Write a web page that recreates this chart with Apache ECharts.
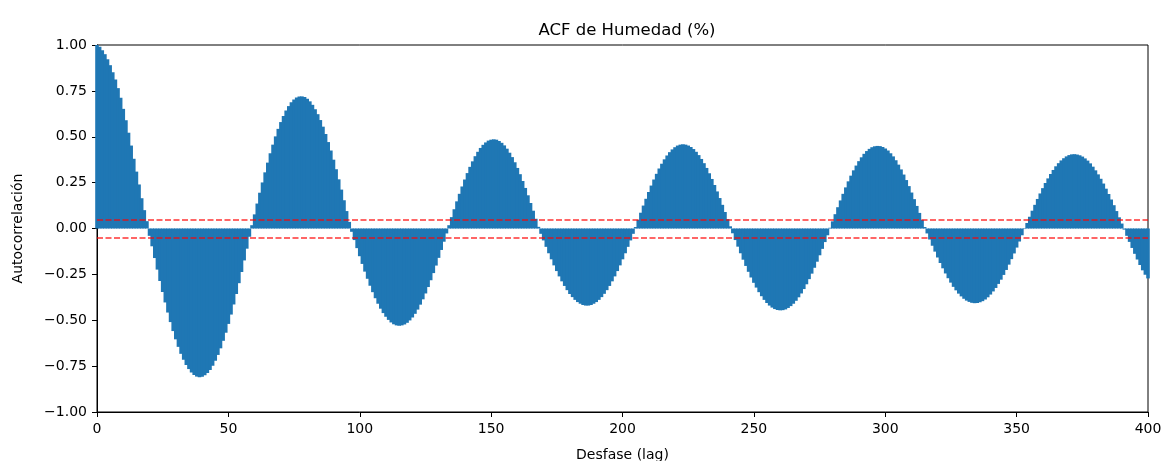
<!DOCTYPE html>
<html>
<head>
<meta charset="utf-8">
<script src="https://cdn.jsdelivr.net/npm/echarts@6/dist/echarts.min.js"></script>
<style>
html,body{margin:0;padding:0;background:#fff;}
#chart{width:1162px;height:461px;}
</style>
</head>
<body>
<div id="chart"></div>
<script>
// ACF values for lags 0..400
const acfValues = [
 1.000,0.990,0.972,0.950,0.922,0.890,0.852,0.812,0.765,0.712,
 0.652,0.590,0.522,0.452,0.380,0.310,0.240,0.165,0.100,0.040,
 -0.040,-0.097,-0.161,-0.224,-0.286,-0.346,-0.403,-0.458,-0.510,-0.559,
 -0.604,-0.645,-0.683,-0.715,-0.744,-0.766,-0.785,-0.798,-0.807,-0.810,
 -0.808,-0.800,-0.788,-0.771,-0.748,-0.721,-0.689,-0.653,-0.612,-0.568,
 -0.520,-0.469,-0.414,-0.357,-0.298,-0.237,-0.174,-0.110,-0.045,0.018,
 0.077,0.136,0.195,0.251,0.306,0.359,0.410,0.457,0.502,0.543,
 0.580,0.613,0.643,0.667,0.688,0.703,0.714,0.719,0.720,0.716,
 0.707,0.693,0.674,0.650,0.623,0.591,0.555,0.515,0.471,0.425,
 0.375,0.323,0.268,0.212,0.154,0.095,0.036,-0.018,-0.063,-0.107,
 -0.151,-0.193,-0.235,-0.274,-0.312,-0.347,-0.380,-0.410,-0.437,-0.461,
 -0.481,-0.498,-0.512,-0.522,-0.528,-0.530,-0.528,-0.523,-0.514,-0.501,
 -0.485,-0.465,-0.442,-0.415,-0.386,-0.354,-0.319,-0.282,-0.243,-0.202,
 -0.160,-0.117,-0.072,-0.027,0.018,0.062,0.105,0.148,0.189,0.229,
 0.267,0.302,0.336,0.366,0.394,0.418,0.439,0.456,0.469,0.479,
 0.484,0.486,0.484,0.477,0.467,0.453,0.435,0.413,0.389,0.361,
 0.330,0.296,0.259,0.221,0.181,0.139,0.097,0.053,0.009,-0.029,
 -0.065,-0.100,-0.135,-0.168,-0.201,-0.232,-0.261,-0.288,-0.313,-0.336,
 -0.357,-0.374,-0.389,-0.401,-0.410,-0.417,-0.420,-0.420,-0.417,-0.410,
 -0.401,-0.389,-0.374,-0.356,-0.336,-0.313,-0.288,-0.261,-0.232,-0.201,
 -0.168,-0.135,-0.100,-0.065,-0.029,0.008,0.047,0.086,0.125,0.162,
 0.199,0.234,0.267,0.298,0.327,0.353,0.377,0.398,0.416,0.431,
 0.443,0.452,0.457,0.459,0.457,0.452,0.444,0.433,0.418,0.400,
 0.379,0.356,0.330,0.301,0.270,0.237,0.202,0.166,0.129,0.090,
 0.051,0.012,-0.026,-0.063,-0.099,-0.135,-0.170,-0.204,-0.236,-0.267,
 -0.296,-0.322,-0.347,-0.369,-0.389,-0.406,-0.420,-0.431,-0.439,-0.444,
 -0.446,-0.445,-0.441,-0.433,-0.423,-0.410,-0.394,-0.375,-0.354,-0.330,
 -0.304,-0.276,-0.246,-0.214,-0.181,-0.146,-0.111,-0.074,-0.037,0.004,
 0.039,0.078,0.116,0.153,0.189,0.224,0.257,0.288,0.317,0.343,
 0.367,0.388,0.407,0.422,0.434,0.443,0.448,0.450,0.449,0.444,
 0.436,0.425,0.410,0.393,0.372,0.348,0.322,0.294,0.264,0.231,
 0.196,0.160,0.123,0.085,0.047,0.008,-0.027,-0.060,-0.094,-0.126,
 -0.158,-0.188,-0.217,-0.245,-0.271,-0.295,-0.318,-0.337,-0.355,-0.370,
 -0.383,-0.393,-0.400,-0.405,-0.407,-0.406,-0.402,-0.396,-0.387,-0.375,
 -0.360,-0.343,-0.324,-0.302,-0.279,-0.253,-0.226,-0.197,-0.167,-0.136,
 -0.104,-0.071,-0.037,-0.003,0.030,0.064,0.097,0.129,0.161,0.191,
 0.220,0.248,0.273,0.297,0.319,0.339,0.356,0.371,0.383,0.393,
 0.400,0.404,0.405,0.403,0.399,0.392,0.382,0.370,0.355,0.337,
 0.317,0.295,0.271,0.245,0.217,0.188,0.158,0.127,0.095,0.061,
 0.027,-0.006,-0.040,-0.073,-0.106,-0.138,-0.169,-0.199,-0.228,-0.252,
 -0.272
];
const lags = acfValues.map((_, i) => i);
const confBounds = [0.047, -0.047];
const xTicks = [0, 50, 100, 150, 200, 250, 300, 350, 400];
const yTicks = [-1.00, -0.75, -0.50, -0.25, 0.00, 0.25, 0.50, 0.75, 1.00];
const titleText = 'ACF de Humedad (%)';
const xLabel = 'Desfase (lag)';
const yLabel = 'Autocorrelación';

const FONT = 'DejaVu Sans';
const chart = echarts.init(document.getElementById('chart'), null, {renderer: 'canvas'});

function fmtY(v) {
  const s = Math.abs(v).toFixed(2);
  return (v < -1e-9 ? '\u2212' : '') + s;
}

chart.setOption({
  animation: false,
  backgroundColor: '#fff',
  title: {
    text: titleText,
    left: 622, top: 17, textAlign: 'center',
    textStyle: {fontFamily: FONT, fontSize: 16.5, fontWeight: 'normal', color: '#000'}
  },
  grid: {
    left: 97, right: 14, top: 45, bottom: 49,
    containLabel: false,
    outerBoundsMode: 'none',
    show: true, borderColor: '#000', borderWidth: 1, backgroundColor: 'transparent'
  },
  xAxis: {
    type: 'value',
    min: xTicks[0], max: xTicks[xTicks.length - 1], interval: 50,
    name: xLabel, nameLocation: 'middle', nameGap: 36,
    nameTextStyle: {fontFamily: FONT, fontSize: 14, color: '#000'},
    axisLine: {show: true, onZero: false, lineStyle: {color: '#000', width: 1}},
    axisTick: {show: true, length: 5, lineStyle: {color: '#000'}},
    axisLabel: {fontFamily: FONT, fontSize: 14, color: '#000', margin: 10},
    splitLine: {show: false}
  },
  yAxis: {
    type: 'value',
    min: yTicks[0], max: yTicks[yTicks.length - 1], interval: 0.25,
    name: yLabel, nameLocation: 'middle', nameGap: 72,
    nameTextStyle: {fontFamily: FONT, fontSize: 14, color: '#000'},
    axisLine: {show: true, lineStyle: {color: '#000', width: 1}},
    axisTick: {show: true, length: 5, lineStyle: {color: '#000'}},
    axisLabel: {fontFamily: FONT, fontSize: 14, color: '#000', margin: 10, formatter: fmtY},
    splitLine: {show: false}
  },
  series: [
    {
      type: 'bar',
      data: lags.map((l, i) => [l, acfValues[i]]),
      barWidth: 3.6,
      clip: true,
      itemStyle: {color: '#1f77b4'},
      silent: true,
      markLine: {
        silent: true,
        symbol: ['none', 'none'],
        label: {show: false},
        lineStyle: {color: 'rgba(255,0,0,0.8)', type: [6, 2.5], width: 1.5},
        data: confBounds.map(b => ({yAxis: b}))
      }
    }
  ]
});
</script>
</body>
</html>
